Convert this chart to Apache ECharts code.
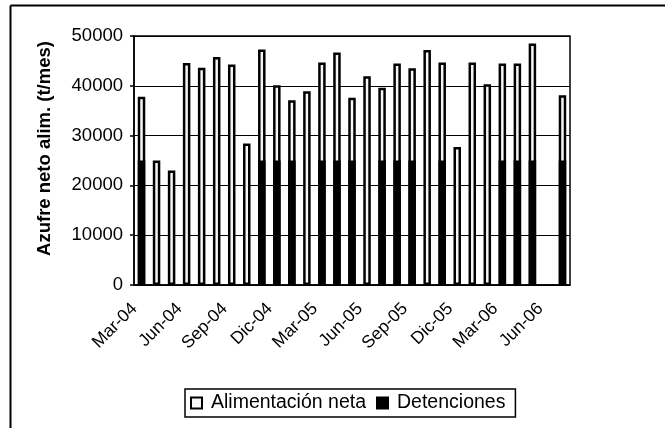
<!DOCTYPE html>
<html>
<head>
<meta charset="utf-8">
<script src="https://cdn.jsdelivr.net/npm/echarts@6/dist/echarts.min.js"></script>
<style>
html,body{margin:0;padding:0;background:#fff;}
#chart{width:665px;height:428px;}
</style>
</head>
<body>
<div id="chart"></div>
<script>
const months = ["Mar-04","Abr-04","May-04","Jun-04","Jul-04","Ago-04","Sep-04","Oct-04","Nov-04","Dic-04","Ene-05","Feb-05","Mar-05","Abr-05","May-05","Jun-05","Jul-05","Ago-05","Sep-05","Oct-05","Nov-05","Dic-05","Ene-06","Feb-06","Mar-06","Abr-06","May-06","Jun-06","Jul-06"];
const alimentacionNeta = [37800,25000,23000,44600,43600,45800,44300,28400,47300,40100,37100,38900,44700,46700,37600,41900,39600,44500,43500,47200,44700,27700,44700,40300,44500,44500,48500,null,38100];
const detenciones = [25000,null,null,null,null,null,null,null,25000,25000,25000,null,25000,25000,25000,null,25000,25000,25000,null,25000,null,null,null,25000,25000,25000,null,25000];
const yTicks = [0,10000,20000,30000,40000,50000];

const chart = echarts.init(document.getElementById('chart'), null, {renderer:'canvas'});
const font = "'Liberation Sans', Arial, sans-serif";
chart.setOption({
  animation:false,
  backgroundColor:'#fff',
  graphic:[
    {type:'line', shape:{x1:10.5,y1:5.5,x2:665,y2:5.5}, style:{stroke:'#000',lineWidth:2}},
    {type:'line', shape:{x1:10.5,y1:5.5,x2:10.5,y2:428}, style:{stroke:'#000',lineWidth:2}}
  ],
  grid:{left:134,right:95,top:36,bottom:143,show:true,borderColor:'#000',borderWidth:1.5,containLabel:false},
  legend:{
    left:185, top:389,
    itemWidth:11, itemHeight:11, itemGap:10, icon:'rect',
    borderColor:'#000', borderWidth:1.5, padding:[4,10,4,5],
    textStyle:{fontFamily:font,fontSize:19.5,color:'#000',padding:[0,0,0,4]},
    data:['Alimentación neta','Detenciones']
  },
  xAxis:{
    type:'category',
    data:months,
    boundaryGap:true,
    axisLine:{lineStyle:{color:'#000',width:1.5}},
    axisTick:{interval:2,length:5,lineStyle:{color:'#000',width:1.5}},
    axisLabel:{interval:2,rotate:45,margin:14,padding:[0,10,0,0],fontFamily:font,fontSize:17.5,color:'#000'}
  },
  yAxis:{
    type:'value',
    min:0,max:50000,interval:10000,
    name:'Azufre neto alim. (t/mes)',
    nameLocation:'middle',
    nameGap:80,
    nameRotate:90,
    nameTextStyle:{fontFamily:font,fontSize:18.5,fontWeight:'bold',color:'#000',padding:[0,0,0,24]},
    axisLine:{show:true,lineStyle:{color:'#000',width:1.5}},
    axisTick:{show:true,length:4,lineStyle:{color:'#000',width:1.5}},
    axisLabel:{margin:11,fontFamily:font,fontSize:18.5,color:'#000',
      formatter:function(v){return yTicks.indexOf(v)>=0?String(v):'';}},
    splitLine:{show:true,lineStyle:{color:'#000',width:1.2}}
  },
  series:[
    {name:'Alimentación neta',type:'bar',data:alimentacionNeta,barWidth:7.5,barGap:'-100%',
     itemStyle:{color:'#f7f7f7',borderColor:'#000',borderWidth:2.5}},
    {name:'Detenciones',type:'bar',data:detenciones,barWidth:7.5,barGap:'-100%',
     itemStyle:{color:'#000',borderColor:'#000',borderWidth:2.5}}
  ]
});
</script>
</body>
</html>
